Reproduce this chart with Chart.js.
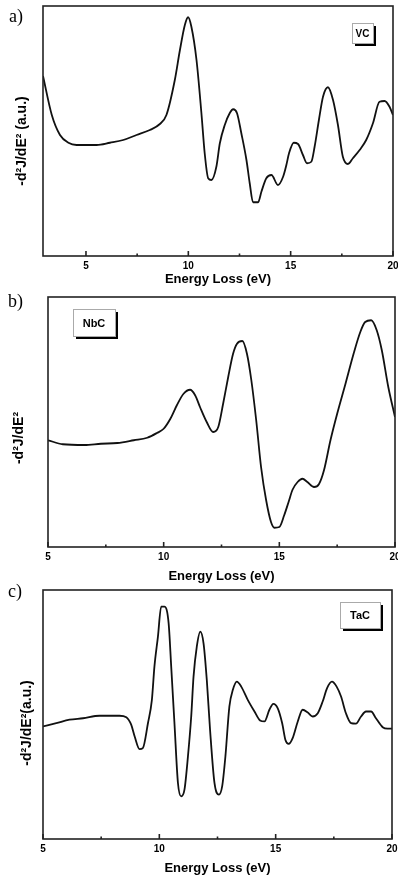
<!DOCTYPE html>
<html>
<head>
<meta charset="utf-8">
<script src="https://cdn.jsdelivr.net/npm/chart.js@4.4.1/dist/chart.umd.min.js"></script>
<style>
  html, body { margin: 0; background: #fff; }
  #wrap { position: relative; width: 398px; height: 878px; overflow: hidden; }
  canvas { position: absolute; left: 0; }
</style>
</head>
<body>
<div id="wrap">
  <canvas id="chartVC" width="398" height="289" style="top:0px"></canvas>
  <canvas id="chartNbC" width="398" height="297" style="top:289px"></canvas>
  <canvas id="chartTaC" width="398" height="302" style="top:576px"></canvas>
</div>
<script>
// a) VC
const energyVC = [2.9, 3.33, 3.73, 4.14, 4.54, 5.52, 6.17, 6.82, 7.47, 8.12, 8.61, 8.93, 9.34, 9.59, 9.83,
  9.99, 10.15, 10.40, 10.64, 10.80, 10.97, 11.13, 11.37, 11.54, 11.78, 12.02, 12.19, 12.38, 12.59, 12.84,
  13.00, 13.16, 13.41, 13.57, 13.81, 14.06, 14.38, 14.63, 14.79, 14.92, 15.15, 15.36, 15.60, 15.80, 16.01,
  16.17, 16.38, 16.58, 16.82, 17.07, 17.31, 17.55, 17.80, 18.04, 18.37, 18.69, 19.02, 19.34, 19.59, 19.83, 20.0];
const signalVC = [72, 56.4, 48.4, 45.3, 44.4, 44.4, 45.3, 46.4, 48.4, 50.4, 52.8, 56.4, 70.4, 82.4, 92.4,
  95.5, 91.7, 78.4, 57.1, 41.1, 31.1, 30.4, 35.7, 45.1, 52.4, 57.1, 58.7, 57.1, 49.1, 38.4,
  29.1, 21.5, 21.5, 25.7, 31.1, 32.4, 28.4, 31.7, 36.4, 41.1, 45.3, 44.8, 40.4, 37.1, 37.7,
  43.7, 54.4, 63.7, 67.5, 62.4, 52.4, 39.7, 36.8, 39.1, 42.4, 46.4, 53.1, 61.7, 62.0, 59.7, 56.4];

// b) NbC
const energyNbC = [5.0, 5.64, 6.57, 7.29, 8.0, 8.71, 9.29, 9.71, 10.0, 10.29, 10.57, 10.86, 11.14, 11.36, 11.57,
  11.86, 12.14, 12.36, 12.57, 12.79, 13.0, 13.17, 13.4, 13.6, 13.79, 14.0, 14.21, 14.43, 14.64, 14.79,
  15.0, 15.21, 15.4, 15.57, 15.79, 16.0, 16.21, 16.5, 16.71, 16.93, 17.21, 17.5, 17.86, 18.21, 18.5,
  18.71, 18.97, 19.21, 19.43, 19.71, 20.0];
const signalNbC = [42.7, 41.1, 40.8, 41.3, 41.6, 42.7, 43.7, 45.6, 47.3, 51.3, 56.7, 61.3, 62.9, 60.7, 56.0,
  50.0, 46.0, 48.0, 57.3, 68.0, 77.3, 81.3, 82.4, 77.3, 66.7, 50.7, 32.0, 18.7, 10.0, 7.7,
  8.0, 12.7, 18.0, 22.9, 26.0, 27.3, 26.0, 24.0, 25.1, 30.7, 42.7, 53.3, 65.3, 77.3, 86.0,
  90.0, 90.7, 86.7, 78.7, 64.0, 52.0];

// c) TaC
const energyTaC = [5.0, 5.57, 6.14, 6.72, 7.43, 8.29, 8.58, 8.79, 8.94, 9.15, 9.29, 9.51, 9.68, 9.79, 9.94,
  10.08, 10.22, 10.40, 10.51, 10.65, 10.80, 10.94, 11.08, 11.23, 11.37, 11.47, 11.61, 11.76, 11.90, 12.04,
  12.18, 12.37, 12.56, 12.70, 12.84, 13.01, 13.16, 13.33, 13.52, 13.80, 14.09, 14.33, 14.52, 14.73, 14.90,
  15.09, 15.28, 15.42, 15.56, 15.73, 15.95, 16.16, 16.38, 16.59, 16.81, 17.02, 17.21, 17.42, 17.62, 17.81,
  18.02, 18.24, 18.45, 18.67, 18.88, 19.10, 19.31, 19.60, 19.81, 20.0];
const signalTaC = [45.2, 46.5, 47.9, 48.5, 49.5, 49.5, 48.9, 45.9, 41.2, 36.1, 36.5, 46.5, 55.9, 69.3, 81.3,
  93.3, 93.3, 86.6, 69.3, 46.5, 22.5, 17.1, 19.8, 33.2, 49.2, 65.2, 77.3, 83.3, 78.6, 63.9,
  43.9, 22.5, 17.8, 21.1, 33.2, 53.2, 59.9, 63.2, 61.2, 55.9, 51.2, 47.6, 47.2, 51.9, 54.3,
  52.5, 46.5, 39.8, 38.2, 40.5, 47.2, 51.9, 50.8, 49.2, 50.5, 55.2, 60.6, 63.2, 61.2, 57.2,
  50.5, 46.5, 46.3, 49.2, 51.2, 51.2, 48.5, 44.9, 44.3, 44.3];

const xTicks = [5, 7.5, 10, 12.5, 15, 17.5, 20];
const xTitle = "Energy Loss (eV)";

const SANS = '"Liberation Sans", Arial, sans-serif';

// frame, inward ticks, panel letter, boxed label, y title
const panelDecor = {
  id: "panelDecor",
  afterDraw(chart, args, o) {
    const { ctx, chartArea: a } = chart;
    const x = chart.scales.x;
    ctx.save();
    ctx.strokeStyle = "#222";
    ctx.lineWidth = 1.6;
    ctx.strokeRect(a.left, a.top, a.right - a.left, a.bottom - a.top);

    x.ticks.forEach(t => {
      const px = x.getPixelForValue(t.value);
      const len = t.value % 5 === 0 ? 5 : 2.5;
      ctx.beginPath();
      ctx.moveTo(px, a.bottom);
      ctx.lineTo(px, a.bottom - len);
      ctx.stroke();
    });

    ctx.fillStyle = "#000";
    ctx.textBaseline = "middle";
    ctx.textAlign = "left";
    ctx.font = '18px "Liberation Serif", "DejaVu Serif", serif';
    ctx.fillText(o.letter, o.letterX, o.letterY);

    const b = o.box;
    ctx.fillStyle = "#000";
    ctx.fillRect(b.x + 3, b.y + 3, b.w, b.h);
    ctx.fillStyle = "#fff";
    ctx.fillRect(b.x, b.y, b.w, b.h);
    ctx.strokeStyle = "#aaa";
    ctx.lineWidth = 1;
    ctx.strokeRect(b.x + 0.5, b.y + 0.5, b.w, b.h);
    ctx.fillStyle = "#000";
    ctx.textAlign = "center";
    ctx.font = "bold " + b.size + "px " + SANS;
    ctx.fillText(o.label, b.x + b.w / 2, b.y + b.h / 2 + 1);

    ctx.translate(o.yTitleX, o.yTitleY);
    ctx.rotate(-Math.PI / 2);
    ctx.font = "bold 14px " + SANS;
    ctx.fillText(o.yTitle, 0, 0);
    ctx.restore();
  }
};

function makePanel(id, energy, signal, xMin, pad, axisHeight, decor) {
  return new Chart(document.getElementById(id), {
    type: "line",
    data: {
      datasets: [{
        data: energy.map((e, i) => ({ x: e, y: signal[i] })),
        borderColor: "#111",
        borderWidth: 1.8,
        pointRadius: 0,
        cubicInterpolationMode: "monotone",
        fill: false
      }]
    },
    options: {
      responsive: false,
      animation: false,
      layout: { padding: pad },
      plugins: { legend: { display: false }, tooltip: { enabled: false }, panelDecor: decor },
      scales: {
        x: {
          type: "linear",
          min: xMin,
          max: 20,
          grid: { display: false, drawTicks: false },
          border: { display: false },
          afterBuildTicks: s => { s.ticks = xTicks.filter(v => v >= xMin).map(v => ({ value: v })); },
          afterFit: s => { s.height = axisHeight; s.paddingLeft = 0; s.paddingRight = 0; },
          ticks: {
            autoSkip: false,
            maxRotation: 0,
            padding: 4,
            color: "#000",
            font: { family: SANS, size: 10, weight: "bold" },
            callback: v => (v % 5 === 0 ? v : "")
          },
          title: {
            display: true,
            text: xTitle,
            color: "#000",
            padding: { top: 0, bottom: 2 },
            font: { family: SANS, size: 13, weight: "bold" }
          }
        },
        y: { display: false, min: 0, max: 100 }
      }
    },
    plugins: [panelDecor]
  });
}

makePanel("chartVC", energyVC, signalVC, 2.9,
  { left: 43, right: 5, top: 6, bottom: 0 }, 33,
  { letter: "a)", letterX: 9, letterY: 17, label: "VC",
    box: { x: 352, y: 23, w: 21, h: 20, size: 10 },
    yTitle: "-d²J/dE² (a.u.)", yTitleX: 22, yTitleY: 141 });

makePanel("chartNbC", energyNbC, signalNbC, 5,
  { left: 48, right: 3, top: 8, bottom: 0 }, 39,
  { letter: "b)", letterX: 8, letterY: 13, label: "NbC",
    box: { x: 73, y: 20, w: 42, h: 27, size: 11 },
    yTitle: "-d²J/dE²", yTitleX: 19, yTitleY: 149 });

makePanel("chartTaC", energyTaC, signalTaC, 5,
  { left: 43, right: 6, top: 14, bottom: 0 }, 39,
  { letter: "c)", letterX: 8, letterY: 16, label: "TaC",
    box: { x: 340, y: 26, w: 40, h: 26, size: 11 },
    yTitle: "-d²J/dE²(a.u.)", yTitleX: 27, yTitleY: 147 });
</script>
</body>
</html>
